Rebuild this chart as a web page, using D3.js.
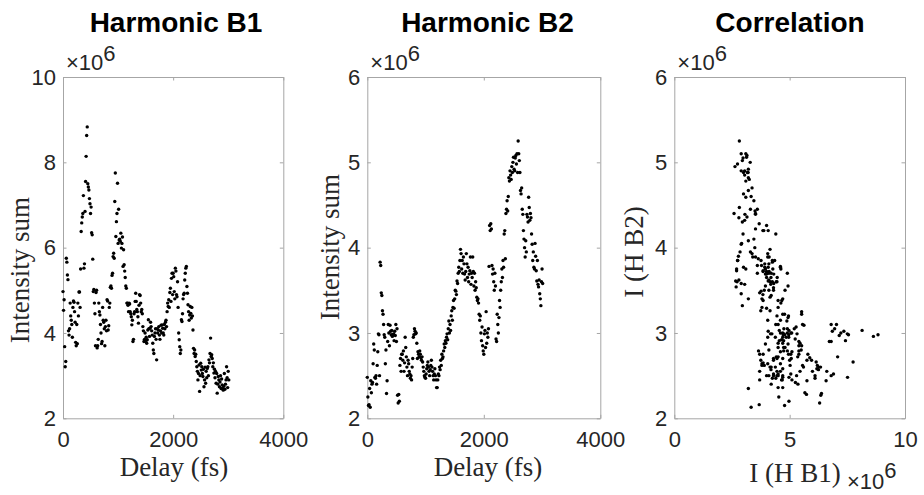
<!DOCTYPE html>
<html>
<head>
<meta charset="utf-8">
<script src="https://cdn.jsdelivr.net/npm/d3@7"></script>
<style>
  body { margin: 0; background: #fff; }
  svg { display: block; }
  .tick text { font-family: Arial, "Liberation Sans", sans-serif; font-size: 22px; fill: #262626; }
  .lab { font-family: "Times New Roman", "Liberation Serif", serif; font-size: 27px; fill: #262626; }
  .ttl { font-family: Arial, "Liberation Sans", sans-serif; font-size: 28px; font-weight: bold; fill: #000; }
  .exp { font-family: Arial, "Liberation Sans", sans-serif; font-size: 22px; fill: #262626; }
</style>
</head>
<body>
<script>
// delay in fs, intensities in units of 1e6 (axes show the x10^6 factor)
const delays = [
  0, 10, 20, 30, 40, 50, 60, 70, 80, 90,
  100, 110, 120, 130, 140, 150, 160, 170, 180, 190,
  200, 210, 220, 230, 240, 250, 260, 270, 280, 290,
  300, 310, 320, 330, 340, 350, 360, 370, 380, 390,
  400, 410, 420, 430, 440, 450, 460, 470, 480, 490,
  500, 510, 520, 530, 540, 550, 560, 570, 580, 590,
  600, 610, 620, 630, 640, 650, 660, 670, 680, 690,
  700, 710, 720, 730, 740, 750, 760, 770, 780, 790,
  800, 810, 820, 830, 840, 850, 860, 870, 880, 890,
  900, 910, 920, 930, 940, 950, 960, 970, 980, 990,
  1000, 1010, 1020, 1030, 1040, 1050, 1060, 1070, 1080, 1090,
  1100, 1110, 1120, 1130, 1140, 1150, 1160, 1170, 1180, 1190,
  1200, 1210, 1220, 1230, 1240, 1250, 1260, 1270, 1280, 1290,
  1300, 1310, 1320, 1330, 1340, 1350, 1360, 1370, 1380, 1390,
  1400, 1410, 1420, 1430, 1440, 1450, 1460, 1470, 1480, 1490,
  1500, 1510, 1520, 1530, 1540, 1550, 1560, 1570, 1580, 1590,
  1600, 1610, 1620, 1630, 1640, 1650, 1660, 1670, 1680, 1690,
  1700, 1710, 1720, 1730, 1740, 1750, 1760, 1770, 1780, 1790,
  1800, 1810, 1820, 1830, 1840, 1850, 1860, 1870, 1880, 1890,
  1900, 1910, 1920, 1930, 1940, 1950, 1960, 1970, 1980, 1990,
  2000, 2010, 2020, 2030, 2040, 2050, 2060, 2070, 2080, 2090,
  2100, 2110, 2120, 2130, 2140, 2150, 2160, 2170, 2180, 2190,
  2200, 2210, 2220, 2230, 2240, 2250, 2260, 2270, 2280, 2290,
  2300, 2310, 2320, 2330, 2340, 2350, 2360, 2370, 2380, 2390,
  2400, 2410, 2420, 2430, 2440, 2450, 2460, 2470, 2480, 2490,
  2500, 2510, 2520, 2530, 2540, 2550, 2560, 2570, 2580, 2590,
  2600, 2610, 2620, 2630, 2640, 2650, 2660, 2670, 2680, 2690,
  2700, 2710, 2720, 2730, 2740, 2750, 2760, 2770, 2780, 2790,
  2800, 2810, 2820, 2830, 2840, 2850, 2860, 2870, 2880, 2890,
  2900, 2910, 2920, 2930, 2940, 2950, 2960, 2970, 2980, 2990,
  3000, 3010
];

const b1 = [
  4.97, 4.53, 4.78, 3.68, 3.21, 3.33, 5.75, 5.66, 5.36, 5.25,
  4.05, 3.95, 4.10, 4.70, 4.40, 4.30, 4.20, 3.90, 4.60, 4.75,
  4.72, 4.50, 4.25, 3.78, 3.70, 4.20, 3.75, 4.70, 4.40, 4.96,
  4.96, 4.60, 5.50, 6.38, 6.58, 6.72, 6.80, 7.22, 5.52, 5.62,
  6.85, 7.55, 8.14, 8.63, 8.83, 7.50, 7.42, 7.35, 7.15, 7.03,
  6.80, 6.95, 6.35, 6.30, 5.73, 4.97, 5.02, 4.70, 4.45, 3.70,
  4.95, 5.00, 3.65, 3.70, 3.85, 4.70, 4.50, 4.42, 4.20, 4.00,
  3.75, 3.80, 4.60, 4.30, 4.25, 4.10, 3.70, 4.15, 4.30, 4.05,
  4.78, 4.75, 4.07, 4.17, 4.60, 4.70, 5.07, 5.10, 5.05, 5.35,
  5.40, 5.79, 5.87, 5.75, 7.08, 7.75, 6.26, 6.61, 6.80, 7.51,
  6.10, 6.90, 6.18, 6.20, 6.15, 6.34, 5.99, 6.10, 6.25, 5.56,
  5.95, 5.60, 5.45, 5.30, 5.10, 5.05, 4.70, 4.70, 4.65, 4.50,
  4.70, 4.68, 4.50, 4.45, 4.38, 4.19, 4.30, 3.80, 3.85, 4.45,
  4.50, 4.74, 4.93, 4.74, 4.55, 4.50, 4.38, 4.23, 4.65, 4.90,
  4.88, 4.70, 4.50, 4.55, 4.45, 4.15, 4.05, 3.80, 3.85, 4.00,
  3.80, 3.90, 3.76, 3.84, 4.07, 4.31, 4.10, 3.92, 4.11, 4.25,
  4.15, 4.05, 3.95, 3.76, 3.60, 3.52, 3.92, 4.00, 4.10, 3.85,
  3.37, 4.10, 4.00, 4.07, 4.15, 3.95, 3.85, 4.05, 4.18, 4.00,
  4.19, 4.11, 4.00, 3.95, 4.20, 4.10, 4.25, 4.30, 4.15, 4.50,
  4.70, 4.62, 4.78, 4.60, 4.95, 5.05, 4.74, 5.28, 5.40, 4.90,
  5.40, 5.32, 4.97, 4.80, 5.52, 5.45, 4.90, 4.85, 5.20, 4.60,
  4.00, 3.84, 3.68, 3.52, 3.60, 4.31, 4.27, 4.45, 4.80, 4.90,
  4.93, 5.24, 5.40, 5.52, 5.56, 5.09, 4.93, 4.66, 4.50, 4.30,
  4.42, 4.62, 4.46, 4.35, 4.60, 4.40, 4.07, 3.64, 3.52, 3.60,
  3.45, 3.50, 3.33, 3.21, 3.10, 2.90, 3.05, 3.25, 2.63, 3.00,
  3.29, 3.13, 3.21, 3.05, 2.98, 3.15, 2.74, 2.90, 3.20, 2.82,
  3.10, 2.95, 3.17, 3.21, 3.00, 3.37, 3.30, 3.52, 3.88, 3.45,
  3.49, 3.40, 3.21, 3.30, 3.06, 3.15, 2.95, 3.10, 2.82, 3.05,
  2.59, 2.80, 2.98, 2.90, 2.74, 2.85, 3.00, 2.70, 2.92, 2.78,
  2.70, 2.66, 2.75, 3.05, 2.68, 2.80, 2.90, 3.21, 2.95, 2.72,
  3.10, 2.90
];

const b2 = [
  2.48, 2.25, 2.15, 2.16, 2.35, 2.13, 2.44, 2.30, 2.40, 2.42,
  2.64, 2.87, 2.80, 2.48, 2.47, 2.50, 2.40, 2.62, 2.78, 2.99,
  2.98, 2.50, 3.83, 3.79, 3.47, 3.44, 3.26, 3.22, 3.10, 2.98,
  2.95, 2.64, 2.80, 2.29, 2.44, 2.90, 3.10, 3.00, 2.85, 3.09,
  3.02, 2.98, 3.03, 2.96, 2.98, 2.99, 2.91, 3.02, 2.97, 3.10,
  2.90, 3.05, 2.27, 2.18, 2.28, 2.20, 2.62, 2.70, 2.55, 2.75,
  2.75, 2.68, 2.79, 2.55, 2.65, 2.95, 2.83, 2.72, 2.60, 2.50,
  2.68, 2.64, 2.55, 2.52, 2.47, 2.50, 2.45, 2.60, 2.70, 2.95,
  2.98, 3.05, 3.02, 2.99, 3.00, 2.88, 2.70, 2.78, 2.75, 2.72,
  2.79, 2.75, 2.71, 2.68, 2.72, 2.66, 2.60, 2.55, 2.50, 2.48,
  2.47, 2.52, 2.58, 2.62, 2.66, 2.60, 2.55, 2.50, 2.57, 2.62,
  2.68, 2.60, 2.55, 2.50, 2.45, 2.52, 2.58, 2.50, 2.45, 2.36,
  2.36, 2.45, 2.52, 2.50, 2.60, 2.57, 2.68, 2.62, 2.75, 2.70,
  2.72, 2.79, 2.87, 2.83, 2.91, 2.88, 2.95, 2.99, 2.92, 3.05,
  3.14, 3.00, 3.10, 3.03, 3.20, 3.26, 3.15, 3.30, 3.38, 3.29,
  3.40, 3.50, 3.49, 3.45, 3.61, 3.58, 3.70, 3.77, 3.72, 3.85,
  3.98, 3.93, 3.75, 3.85, 3.70, 3.89, 3.81, 3.69, 3.62, 3.72,
  3.93, 3.81, 3.65, 3.77, 3.60, 3.69, 3.73, 3.89, 3.57, 3.70,
  3.65, 3.89, 3.72, 3.55, 3.70, 3.50, 3.60, 3.53, 3.42, 3.38,
  3.40, 3.35, 3.22, 3.15, 3.20, 3.00, 2.91, 3.07, 2.85, 2.79,
  2.75, 2.99, 3.03, 2.83, 3.25, 2.88, 3.00, 2.95, 3.05, 3.78,
  4.26, 4.20, 4.28, 4.22, 3.79, 3.69, 3.75, 3.60, 3.50, 3.70,
  3.55, 2.93, 2.90, 3.22, 3.10, 3.00, 3.18, 3.38, 3.30, 3.50,
  3.60, 3.75, 3.65, 3.85, 3.77, 4.16, 4.20, 3.87, 4.40, 4.45,
  4.55, 4.43, 4.60, 4.82, 4.78, 4.90, 4.85, 4.80, 4.95, 4.88,
  5.00, 5.06, 4.92, 4.90, 5.05, 5.08, 4.98, 5.10, 4.88, 5.25,
  5.10, 5.02, 4.88, 4.67, 4.63, 4.70, 4.45, 4.39, 4.20, 4.10,
  4.00, 3.89, 4.08, 3.95, 4.39, 4.36, 4.30, 4.59, 4.47, 4.32,
  4.40, 4.35, 4.16, 4.04, 3.85, 3.95, 3.77, 3.75, 4.05, 3.90,
  3.73, 3.61, 3.85, 3.57, 3.54, 3.62, 3.46, 3.40, 3.32, 3.60,
  3.75, 3.58
];

const titles = ["Harmonic B1", "Harmonic B2", "Correlation"];
const delayTicks = [0, 2000, 4000];
const b1Ticks = [2, 4, 6, 8, 10];
const b2Ticks = [2, 3, 4, 5, 6];
const corrXTicks = [0, 5, 10];

const svg = d3.select("body").append("svg")
  .attr("width", 924)
  .attr("height", 495);

const frameColor = "#a6a6a6";
const plotTop = 77, plotBottom = 418.3;
const plain = (d) => String(d);

const panels = [
  { title: titles[0], left: 63, right: 283.3, xs: delays, ys: b1,
    xDomain: [0, 4000], yDomain: [2, 10], xTicks: delayTicks, yTicks: b1Ticks,
    titleX: 176, xLabel: "Delay (fs)", xLabelX: 174, xLabelY: 476,
    yLabel: "Intensity sum", yLabelX: 29, yLabelY: 270 },
  { title: titles[1], left: 367.3, right: 600.3, xs: delays, ys: b2,
    xDomain: [0, 4000], yDomain: [2, 6], xTicks: delayTicks, yTicks: b2Ticks,
    titleX: 487.5, xLabel: "Delay (fs)", xLabelX: 488, xLabelY: 476,
    yLabel: "Intensity sum", yLabelX: 339, yLabelY: 247 },
  { title: titles[2], left: 674.3, right: 905, xs: b1, ys: b2,
    xDomain: [0, 10], yDomain: [2, 6], xTicks: corrXTicks, yTicks: b2Ticks,
    titleX: 790, xLabel: "I (H B1)", xLabelX: 795, xLabelY: 482,
    yLabel: "I (H B2)", yLabelX: 643, yLabelY: 252 }
];

panels.forEach((p) => {
  const x = d3.scaleLinear().domain(p.xDomain).range([p.left, p.right]);
  const y = d3.scaleLinear().domain(p.yDomain).range([plotBottom, plotTop]);

  // four sides, ticks pointing inward like MATLAB
  svg.append("g")
    .attr("transform", `translate(0,${plotBottom})`)
    .attr("color", frameColor)
    .call(d3.axisBottom(x).tickValues(p.xTicks).tickFormat(plain)
      .tickSizeInner(-3.5).tickSizeOuter(0).tickPadding(13.5));
  svg.append("g")
    .attr("transform", `translate(0,${plotTop})`)
    .attr("color", frameColor)
    .call(d3.axisTop(x).tickValues(p.xTicks).tickSizeInner(-3.5).tickSizeOuter(0).tickFormat(""));
  svg.append("g")
    .attr("transform", `translate(${p.left},0)`)
    .attr("color", frameColor)
    .call(d3.axisLeft(y).tickValues(p.yTicks).tickFormat(plain)
      .tickSizeInner(-3.5).tickSizeOuter(0).tickPadding(7));
  svg.append("g")
    .attr("transform", `translate(${p.right},0)`)
    .attr("color", frameColor)
    .call(d3.axisRight(y).tickValues(p.yTicks).tickSizeInner(-3.5).tickSizeOuter(0).tickFormat(""));

  // points
  svg.append("g")
    .selectAll("circle")
    .data(p.xs.map((v, k) => [v, p.ys[k]]))
    .enter()
    .append("circle")
    .attr("cx", (d) => x(d[0]))
    .attr("cy", (d) => y(d[1]))
    .attr("r", 1.7)
    .attr("fill", "#000");

  // title
  svg.append("text")
    .attr("class", "ttl")
    .attr("x", p.titleX)
    .attr("y", 32)
    .attr("text-anchor", "middle")
    .text(p.title);

  // x10^6 at the top of the y axis
  const ex = svg.append("text").attr("class", "exp")
    .attr("x", p.left + 3)
    .attr("y", 70);
  ex.append("tspan").text("\u00d710");
  ex.append("tspan").attr("dy", -9).text("6");

  // axis labels
  svg.append("text")
    .attr("class", "lab")
    .attr("x", p.xLabelX)
    .attr("y", p.xLabelY)
    .attr("text-anchor", "middle")
    .text(p.xLabel);
  svg.append("text")
    .attr("class", "lab")
    .attr("transform", `translate(${p.yLabelX},${p.yLabelY}) rotate(-90)`)
    .attr("text-anchor", "middle")
    .text(p.yLabel);
});

// x10^6 for the correlation x axis
const ex3 = svg.append("text").attr("class", "exp")
  .attr("x", 847)
  .attr("y", 489);
ex3.append("tspan").text("\u00d710");
ex3.append("tspan").attr("dy", -11).text("6");
</script>
</body>
</html>
